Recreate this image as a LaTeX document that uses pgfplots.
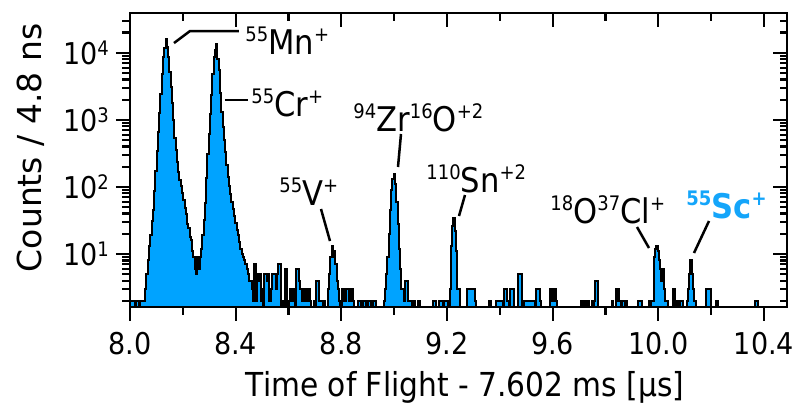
\documentclass[border=0pt]{standalone}
\usepackage{fontspec}
\setmainfont{DejaVu Sans}[FakeStretch=0.9]
\newfontfamily\uprightlabel{DejaVu Sans}
\usepackage{pgfplots}
\usepackage{pgfplotstable}
\pgfplotsset{compat=1.18}
\definecolor{histblue}{RGB}{0,163,255}
\definecolor{scblue}{RGB}{20,165,250}

% raised small text for isotope numbers and charge states
\newcommand{\su}[1]{\raisebox{6.5pt}{\fontsize{10}{12}\selectfont #1}}
% exponent of the decade tick labels
\newcommand{\ex}[1]{\raisebox{4.5pt}{\fontsize{10}{12}\selectfont #1}}

% Time-of-flight histogram: left bin edge [us], counts per 4.8 ns bin.
% A count of 1 marks an empty stretch (it lies below the lower axis limit).
\pgfplotstableread{
t n
8.0000 2
8.0048 2
8.0096 2
8.0144 2
8.0192 1
8.0240 2
8.0288 2
8.0336 1
8.0384 2
8.0432 2
8.0480 2
8.0528 2
8.0576 3
8.0624 5
8.0672 8
8.0720 13
8.0768 19
8.0816 31
8.0864 46
8.0912 88
8.0960 170
8.1008 340
8.1056 650
8.1104 1250
8.1152 2450
8.1200 4800
8.1248 8600
8.1296 11800
8.1344 15800
8.1392 12100
8.1440 8700
8.1488 5200
8.1536 3100
8.1584 1790
8.1632 980
8.1680 540
8.1728 360
8.1776 235
8.1824 165
8.1872 128
8.1920 104
8.1968 80
8.2016 64
8.2064 48
8.2112 39
8.2160 28
8.2208 24
8.2256 18
8.2304 16
8.2352 11
8.2400 9
8.2448 6
8.2496 5
8.2544 9
8.2592 6
8.2640 9
8.2688 12
8.2736 19
8.2784 32
8.2832 58
8.2880 135
8.2928 310
8.2976 620
8.3024 1230
8.3072 2350
8.3120 4800
8.3168 8500
8.3216 10900
8.3264 13300
8.3312 8200
8.3360 5500
8.3408 2500
8.3456 1290
8.3504 790
8.3552 500
8.3600 330
8.3648 215
8.3696 142
8.3744 104
8.3792 78
8.3840 60
8.3888 47
8.3936 37
8.3984 29
8.4032 23
8.4080 19
8.4128 15
8.4176 12
8.4224 10
8.4272 9
8.4320 8
8.4368 7
8.4416 6
8.4464 5
8.4512 4
8.4560 4
8.4608 3
8.4656 2
8.4704 7
8.4752 2
8.4800 5
8.4848 4
8.4896 5
8.4944 2
8.4992 3
8.5040 1
8.5088 5
8.5136 5
8.5184 4
8.5232 5
8.5280 2
8.5328 3
8.5376 5
8.5424 5
8.5472 5
8.5520 3
8.5568 5
8.5616 7
8.5664 7
8.5712 1
8.5760 2
8.5808 1
8.5856 6
8.5904 6
8.5952 1
8.6000 2
8.6048 3
8.6096 3
8.6144 2
8.6192 3
8.6240 1
8.6288 6
8.6336 6
8.6384 4
8.6432 3
8.6480 3
8.6528 2
8.6576 3
8.6624 3
8.6672 2
8.6720 3
8.6768 3
8.6816 2
8.6864 1
8.6960 2
8.7008 1
8.7056 4
8.7104 4
8.7152 2
8.7200 2
8.7248 2
8.7296 1
8.7344 2
8.7392 1
8.7488 3
8.7536 5
8.7584 9
8.7632 13
8.7680 9
8.7728 11
8.7776 7
8.7824 4
8.7872 3
8.7920 2
8.7968 1
8.8016 3
8.8064 3
8.8112 2
8.8160 3
8.8208 3
8.8256 3
8.8304 2
8.8352 3
8.8400 3
8.8448 2
8.8496 1
8.8640 2
8.8688 2
8.8736 1
8.8832 2
8.8880 2
8.8928 1
8.9024 2
8.9072 2
8.9120 1
8.9216 2
8.9264 2
8.9312 1
8.9600 2
8.9648 3
8.9696 5
8.9744 9
8.9792 20
8.9840 45
8.9888 90
8.9936 130
8.9984 155
9.0032 110
9.0080 60
9.0128 28
9.0176 12
9.0224 6
9.0272 3
9.0320 3
9.0368 2
9.0416 4
9.0464 4
9.0512 2
9.0560 2
9.0608 2
9.0656 1
9.0752 2
9.0800 1
9.0896 2
9.0944 2
9.0992 1
9.1472 2
9.1520 2
9.1568 1
9.1712 2
9.1760 2
9.1808 2
9.1856 1
9.1904 2
9.1952 2
9.2000 2
9.2048 1
9.2096 3
9.2144 13
9.2192 26
9.2240 34
9.2288 22
9.2336 11
9.2384 3
9.2432 3
9.2480 1
9.2768 3
9.2816 3
9.2864 3
9.2912 3
9.2960 3
9.3008 3
9.3056 2
9.3104 1
9.3584 2
9.3632 2
9.3680 1
9.3872 2
9.3920 2
9.3968 2
9.4016 2
9.4064 2
9.4112 1
9.4160 3
9.4208 3
9.4256 2
9.4304 2
9.4352 1
9.4400 3
9.4448 3
9.4496 3
9.4544 1
9.4688 5
9.4736 5
9.4784 5
9.4832 1
9.4928 2
9.4976 2
9.5024 2
9.5072 2
9.5120 2
9.5168 2
9.5216 2
9.5264 2
9.5312 1
9.5360 3
9.5408 3
9.5456 3
9.5504 2
9.5552 1
9.5888 3
9.5936 3
9.5984 2
9.6032 3
9.6080 3
9.6128 2
9.6176 1
9.7088 2
9.7136 1
9.7184 2
9.7232 2
9.7280 1
9.7328 2
9.7376 1
9.7472 2
9.7520 1
9.7568 2
9.7616 4
9.7664 4
9.7712 1
9.8240 2
9.8288 1
9.8384 3
9.8432 2
9.8480 3
9.8528 2
9.8576 1
9.8624 2
9.8672 2
9.8720 1
9.8768 2
9.8816 1
9.9248 2
9.9296 2
9.9344 2
9.9392 1
9.9632 2
9.9680 1
9.9728 2
9.9776 2
9.9824 9
9.9872 12
9.9920 13
9.9968 11
10.0016 8
10.0064 6
10.0112 4
10.0160 6
10.0208 3
10.0256 2
10.0304 2
10.0352 1
10.0544 3
10.0592 3
10.0640 1
10.0688 2
10.0736 2
10.0784 1
10.0832 2
10.0880 2
10.0928 1
10.1072 2
10.1120 3
10.1168 5
10.1216 8
10.1264 5
10.1312 3
10.1360 2
10.1408 1
10.1792 3
10.1840 3
10.1888 3
10.1936 3
10.1984 1
10.2176 2
10.2224 2
10.2272 1
10.3664 2
10.3712 2
10.3760 1
10.4870 1
}\hist

\begin{document}
\begin{tikzpicture}

\begin{axis}[
    at={(0,0)}, anchor=south west,
    scale only axis, width=328.5pt, height=147pt,
    xmin=8.0, xmax=10.487,
    ymode=log, ymin=1.62, ymax=39100,
    axis line style={line width=1.25pt},
    xtick={8.0,8.4,8.8,9.2,9.6,10.0,10.4},
    minor xtick={8.2,8.6,9.0,9.4,9.8,10.2},
    ytick={10,100,1000,10000},
    minor ytick={2,3,4,5,6,7,8,9,20,30,40,50,60,70,80,90,
      200,300,400,500,600,700,800,900,2000,3000,4000,5000,6000,7000,8000,9000,20000,30000},
    major tick length=7pt, minor tick length=3.75pt,
    every tick/.style={black, line width=1.1pt},
    tick align=outside, tick pos=left,
    xticklabels={8.0,8.4,8.8,9.2,9.6,10.0,10.4},
    yticklabels={10\ex{1},10\ex{2},10\ex{3},10\ex{4}},
    tick label style={font=\fontsize{15}{18}\selectfont},
    xticklabel style={yshift=-2pt},
    xlabel={Time of Flight - 7.602 ms [µs]},
    ylabel={\uprightlabel Counts / 4.8 ns},
    label style={font=\fontsize{16.5}{19}\selectfont},
    xlabel style={at={(axis description cs:0.51,-0.303)}, anchor=base},
    ylabel style={at={(axis description cs:-0.134,0.541)}, anchor=base},
  ]
  \addplot[const plot, fill=histblue, draw=black, line width=1pt]
    table[x=t, y=n] {\hist} \closedcycle;
\end{axis}

% mirrored ticks on the top and right edges, pointing inwards
\begin{axis}[
    at={(0,0)}, anchor=south west,
    scale only axis, width=328.5pt, height=147pt,
    xmin=8.0, xmax=10.487,
    ymode=log, ymin=1.62, ymax=39100,
    axis line style={line width=1.25pt},
    xtick={8.0,8.4,8.8,9.2,9.6,10.0,10.4},
    minor xtick={8.2,8.6,9.0,9.4,9.8,10.2},
    ytick={10,100,1000,10000},
    minor ytick={2,3,4,5,6,7,8,9,20,30,40,50,60,70,80,90,
      200,300,400,500,600,700,800,900,2000,3000,4000,5000,6000,7000,8000,9000,20000,30000},
    major tick length=7pt, minor tick length=3.75pt,
    every tick/.style={black, line width=1.1pt},
    tick align=inside, tick pos=right,
    xticklabels={}, yticklabels={},
  ]
  \addplot[draw=none] coordinates {(9.0,10)};
\end{axis}

% peak labels with their leader lines (1 unit = 0.5pt, y downwards from the top-left corner)
\begin{scope}[x=0.5pt, y=-0.5pt, shift={(-65pt,153.5pt)},
    ann/.style={font=\fontsize{17}{20}\selectfont, anchor=base west, inner sep=0pt},
    lead/.style={line width=1.25pt}]
  \draw[lead] (174,43) -- (190,31) -- (239,31);
  \node[ann] at (245,54) {\su{55}Mn\su{+}};
  \draw[lead] (225,100) -- (248,100);
  \node[ann] at (251,116) {\su{55}Cr\su{+}};
  \draw[lead] (321,209) -- (330,241);
  \node[ann] at (279,205) {\su{55}V\su{+}};
  \draw[lead] (401,134) -- (398,167);
  \node[ann] at (353,131) {\su{94}Zr\su{16}O\su{+2}};
  \draw[lead] (465,195) -- (459,216);
  \node[ann] at (426,192) {\su{110}Sn\su{+2}};
  \draw[lead] (637,227) -- (649,248);
  \node[ann] at (550,223) {\su{18}O\su{37}Cl\su{+}};
  \draw[lead] (709,221) -- (694,253);
  \node[ann, text=scblue, font=\fontsize{17}{20}\selectfont\bfseries] at (686,218) {\su{55}Sc\su{+}};
\end{scope}

% page frame
\pgfresetboundingbox
\begin{scope}[x=0.5pt, y=-0.5pt, shift={(-65pt,153.5pt)}]
  \path (0,0) rectangle (794,404);
\end{scope}
\end{tikzpicture}
\end{document}
